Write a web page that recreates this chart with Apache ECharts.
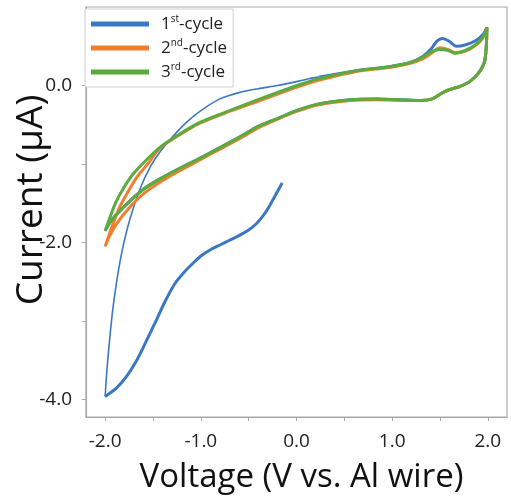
<!DOCTYPE html>
<html>
<head>
<meta charset="utf-8">
<script src="https://cdn.jsdelivr.net/npm/echarts@6/dist/echarts.min.js"></script>
<style>html,body{margin:0;padding:0;background:#fff;}#main{width:511px;height:500px;}</style>
</head>
<body>
<div id="main"></div>
<script>
// ---- data (Voltage V, Current µA) ----
const legendNames = ['1st-cycle', '2nd-cycle', '3rd-cycle'];
const xTickValues = [-2, -1.5, -1, -0.5, 0, 0.5, 1, 1.5, 2];
const xLabelValues = [-2, -1, 0, 1, 2];
const yTickValues = [-4, -3, -2, -1, 0];
const yLabelValues = [-4, -2, 0];

// 1st cycle: initial cathodic sweep from -0.15 V down to -2.0 V
const cycle1Start = [[-0.15,-1.24],[-0.19,-1.33],[-0.24,-1.44],[-0.29,-1.55],[-0.35,-1.66],[-0.42,-1.76],[-0.50,-1.84],[-0.60,-1.91],[-0.70,-1.97],[-0.80,-2.03],[-0.90,-2.09],[-1.00,-2.17],[-1.08,-2.26],[-1.17,-2.37],[-1.27,-2.52],[-1.37,-2.74],[-1.47,-3.00],[-1.58,-3.28],[-1.68,-3.52],[-1.78,-3.71],[-1.88,-3.85],[-2.00,-3.96]];
// 1st cycle: reverse sweep from -2.0 V (thin part)
const cycle1Rise = [[-2.00,-3.96],[-1.98,-3.60],[-1.95,-3.20],[-1.92,-2.85],[-1.88,-2.50],[-1.83,-2.15],[-1.77,-1.83],[-1.70,-1.54],[-1.62,-1.27],[-1.53,-1.04],[-1.43,-0.85],[-1.30,-0.66],[-1.15,-0.47],[-1.00,-0.32],[-0.80,-0.17],[-0.60,-0.09],[-0.40,-0.04],[-0.20,0.00],[0.00,0.05],[0.14,0.09],[0.24,0.11]];
// 1st cycle: anodic to 2.0 V and back to -2.0 V
const cycle1Rest = [[0.24,0.11],[0.63,0.19],[0.97,0.24],[1.18,0.29],[1.32,0.37],[1.41,0.47],[1.47,0.57],[1.53,0.60],[1.60,0.56],[1.67,0.50],[1.77,0.52],[1.87,0.57],[1.95,0.65],[1.99,0.74],[1.97,0.33],[1.91,0.17],[1.81,0.05],[1.71,-0.01],[1.58,-0.06],[1.50,-0.11],[1.42,-0.17],[1.29,-0.19],[1.08,-0.18],[0.84,-0.17],[0.56,-0.18],[0.21,-0.24],[0.00,-0.32],[-0.20,-0.42],[-0.40,-0.52],[-0.60,-0.66],[-0.80,-0.79],[-1.00,-0.92],[-1.20,-1.04],[-1.40,-1.17],[-1.60,-1.32],[-1.75,-1.48],[-1.88,-1.64],[-1.96,-1.76],[-2.00,-1.85]];
// 2nd cycle
const cycle2 = [[-2.00,-2.05],[-1.97,-1.94],[-1.92,-1.77],[-1.85,-1.55],[-1.76,-1.35],[-1.67,-1.17],[-1.55,-0.99],[-1.43,-0.80],[-1.25,-0.65],[-1.01,-0.48],[-0.70,-0.33],[-0.38,-0.19],[0.03,-0.01],[0.24,0.07],[0.63,0.18],[0.97,0.23],[1.18,0.28],[1.32,0.34],[1.41,0.41],[1.50,0.48],[1.58,0.46],[1.66,0.42],[1.77,0.44],[1.87,0.51],[1.95,0.61],[1.99,0.74],[1.97,0.33],[1.91,0.17],[1.81,0.05],[1.71,-0.01],[1.58,-0.06],[1.50,-0.11],[1.42,-0.17],[1.29,-0.19],[1.08,-0.19],[0.84,-0.18],[0.56,-0.19],[0.21,-0.25],[0.00,-0.33],[-0.20,-0.43],[-0.40,-0.54],[-0.60,-0.68],[-0.80,-0.81],[-1.00,-0.94],[-1.20,-1.07],[-1.40,-1.21],[-1.60,-1.38],[-1.75,-1.56],[-1.88,-1.76],[-1.96,-1.93],[-2.00,-2.05]];
// 3rd cycle
const cycle3 = [[-2.00,-1.85],[-1.95,-1.68],[-1.89,-1.49],[-1.81,-1.31],[-1.71,-1.13],[-1.58,-0.96],[-1.43,-0.79],[-1.25,-0.64],[-1.01,-0.47],[-0.70,-0.32],[-0.38,-0.17],[0.03,0.01],[0.24,0.09],[0.63,0.19],[0.97,0.24],[1.18,0.29],[1.32,0.36],[1.41,0.43],[1.50,0.46],[1.58,0.45],[1.66,0.41],[1.77,0.45],[1.87,0.52],[1.95,0.62],[1.99,0.74],[1.97,0.33],[1.91,0.17],[1.81,0.05],[1.71,-0.01],[1.58,-0.06],[1.50,-0.11],[1.42,-0.17],[1.29,-0.19],[1.08,-0.18],[0.84,-0.17],[0.56,-0.18],[0.21,-0.24],[0.00,-0.32],[-0.20,-0.42],[-0.40,-0.52],[-0.60,-0.66],[-0.80,-0.79],[-1.00,-0.92],[-1.20,-1.04],[-1.40,-1.17],[-1.60,-1.32],[-1.75,-1.48],[-1.88,-1.64],[-1.96,-1.76],[-2.00,-1.85]];

const BLUE = '#3b78c3', ORANGE = '#f07e2e', GREEN = '#5bab3e';
const AXIS = '#a9a9a9';
const FONT = '"Open Sans", "Noto Sans", sans-serif';

function lineSeries(name, data, color, width) {
  return {
    name: name, type: 'line', data: data, showSymbol: false, symbol: 'none',
    smooth: 0.3, lineStyle: { color: color, width: width }, itemStyle: { color: color },
    animation: false, z: 2
  };
}

const chart = echarts.init(document.getElementById('main'), null, { renderer: 'canvas' });
chart.setOption({
  animation: false,
  backgroundColor: '#fff',
  grid: { left: 86, right: 4, top: 7, bottom: 83, containLabel: false, outerBoundsMode: 'none',
          show: true, borderColor: AXIS, borderWidth: 1.2 },
  legend: {
    data: legendNames,
    orient: 'vertical', left: 85, top: 9,
    padding: [5, 6, 5, 6], itemGap: 4,
    itemWidth: 58, itemHeight: 5, icon: 'rect',
    backgroundColor: '#fff', borderColor: '#cfcfcf', borderWidth: 1, borderRadius: 0,
    formatter: function (n) {
      const m = n.match(/^(\d)(st|nd|rd)(.*)$/);
      return '{f|' + m[1] + '}{sup|' + m[2] + '}{n|' + m[3] + '}';
    },
    textStyle: {
      fontFamily: FONT, fontSize: 17, color: '#222', lineHeight: 20,
      rich: {
        f: { fontFamily: FONT, fontSize: 17, color: '#222', lineHeight: 20, padding: [0, 0, 0, 7] },
        n: { fontFamily: FONT, fontSize: 17, color: '#222', lineHeight: 20 },
        sup: { fontFamily: FONT, fontSize: 10, color: '#222', padding: [0, 0, 10, 0] }
      }
    }
  },
  xAxis: {
    type: 'value', min: -2.2, max: 2.2,
    name: 'Voltage (V vs. Al wire)', nameLocation: 'middle', nameGap: 44, nameMoveOverlap: false,
    nameTextStyle: { fontFamily: FONT, fontSize: 33, color: '#111', padding: [0, 0, 0, 10] },
    axisLine: { show: true, onZero: false, lineStyle: { color: AXIS, width: 1.2 } },
    axisTick: { show: true, inside: false, length: 4, customValues: xTickValues, lineStyle: { color: AXIS } },
    axisLabel: { customValues: xLabelValues, margin: 15, fontFamily: FONT, fontSize: 19, color: '#222',
      formatter: function (v) { return v.toFixed(1); } },
    splitLine: { show: false }
  },
  yAxis: {
    type: 'value', min: -4.22, max: 1.0,
    name: 'Current (μA)', nameLocation: 'middle', nameGap: 36, nameRotate: 90, nameMoveOverlap: false,
    nameTextStyle: { fontFamily: FONT, fontSize: 37, color: '#111', padding: [0, 0, 0, 24] },
    axisLine: { show: true, onZero: false, lineStyle: { color: AXIS, width: 1.2 } },
    axisTick: { show: true, inside: false, length: 4, customValues: yTickValues, lineStyle: { color: AXIS } },
    axisLabel: { customValues: yLabelValues, margin: 14, fontFamily: FONT, fontSize: 19, color: '#222',
      formatter: function (v) { return v.toFixed(1); } },
    splitLine: { show: false }
  },
  series: [
    lineSeries(legendNames[0], cycle1Start, BLUE, 3),
    lineSeries(legendNames[0], cycle1Rise, BLUE, 1.6),
    lineSeries(legendNames[0], cycle1Rest, BLUE, 3),
    lineSeries(legendNames[1], cycle2, ORANGE, 3),
    lineSeries(legendNames[2], cycle3, GREEN, 3)
  ]
});
</script>
</body>
</html>
